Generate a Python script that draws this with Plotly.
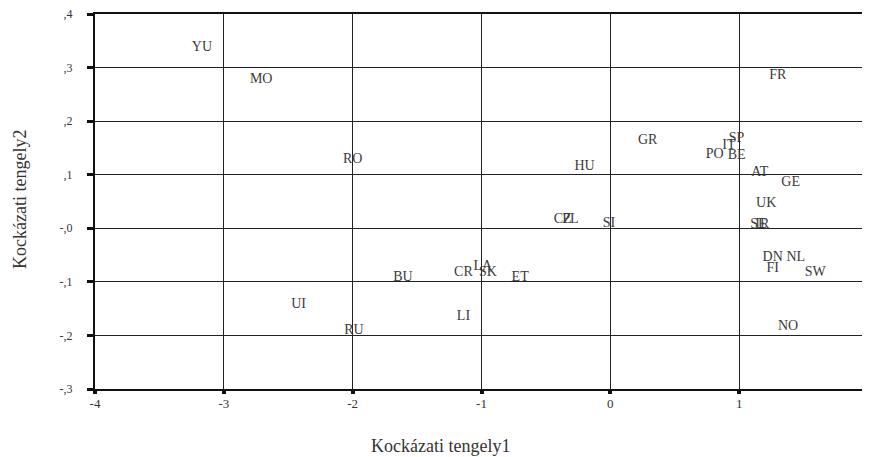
import plotly.graph_objects as go

labels = ["YU", "MO", "RO", "HU", "GR", "FR", "SP", "IT", "PO", "BE", "AT", "GE", "UK",
          "SE", "IR", "CZ", "PL", "SI", "BU", "CR", "LA", "SK", "ET", "UI", "LI", "RU",
          "DN", "NL", "FI", "SW", "NO"]
axis1 = [-3.17, -2.71, -2.00, -0.20, 0.29, 1.30, 0.98, 0.92, 0.81, 0.98, 1.16, 1.40, 1.21,
         1.15, 1.18, -0.37, -0.31, -0.01, -1.61, -1.14, -0.99, -0.95, -0.70, -2.42, -1.14, -1.99,
         1.26, 1.44, 1.26, 1.59, 1.38]
axis2 = [0.338, 0.277, 0.129, 0.116, 0.164, 0.286, 0.168, 0.155, 0.138, 0.136, 0.105, 0.086, 0.047,
         0.008, 0.008, 0.017, 0.017, 0.009, -0.092, -0.083, -0.071, -0.082, -0.092, -0.142, -0.164, -0.191,
         -0.054, -0.054, -0.075, -0.082, -0.183]

x_ticks = [-4, -3, -2, -1, 0, 1, 2]
x_ticktext = ["-4", "-3", "-2", "-1", "0", "1", "2"]
y_ticks = [0.4, 0.3, 0.2, 0.1, 0.0, -0.1, -0.2, -0.3]
y_ticktext = [",4", ",3", ",2", ",1", "-,0", "-,1", "-,2", "-,3"]
x_title = "Kockázati tengely1"
y_title = "Kockázati tengely2"

SERIF = "Liberation Serif"

fig = go.Figure()
fig.add_trace(go.Scatter(
    x=axis1, y=axis2, text=labels, mode="text",
    textposition="middle center",
    textfont=dict(family=SERIF, size=14, color="#3a3a3a"),
    hoverinfo="text", showlegend=False,
))

fig.update_layout(
    width=862, height=449,
    margin=dict(l=87, r=2, t=6, b=68),
    paper_bgcolor="white", plot_bgcolor="white",
    font=dict(family=SERIF, color="#333333"),
    xaxis=dict(
        range=[-4, 2], tickvals=x_ticks, ticktext=x_ticktext, automargin=False,
        ticklabeloverflow="allow",
        showgrid=True, gridcolor="#222222", gridwidth=1,
        zeroline=False, showline=True, linecolor="#111111", linewidth=2, mirror=True,
        ticks="outside", ticklen=3, tickwidth=4, tickcolor="#111111",
        ticklabelstandoff=-2,
        tickfont=dict(family=SERIF, size=13, color="#333333"),
    ),
    yaxis=dict(
        range=[-0.3, 0.4], tickvals=y_ticks, ticktext=y_ticktext, automargin=False,
        ticklabeloverflow="allow",
        showgrid=True, gridcolor="#222222", gridwidth=1,
        zeroline=False, showline=True, linecolor="#111111", linewidth=2, mirror=True,
        ticks="outside", ticklen=6, tickwidth=3, tickcolor="#111111",
        ticklabelstandoff=12,
        tickfont=dict(family=SERIF, size=12, color="#333333"),
    ),
    annotations=[
        dict(text=x_title, xref="paper", yref="paper", x=0.4476, y=-0.152,
             xanchor="center", yanchor="middle", showarrow=False,
             font=dict(family=SERIF, size=18, color="#333333")),
        dict(text=y_title, xref="paper", yref="paper", x=-0.097, y=0.504,
             xanchor="center", yanchor="middle", showarrow=False, textangle=-90,
             font=dict(family=SERIF, size=18, color="#333333")),
    ],
)

fig.write_html("out.html")
